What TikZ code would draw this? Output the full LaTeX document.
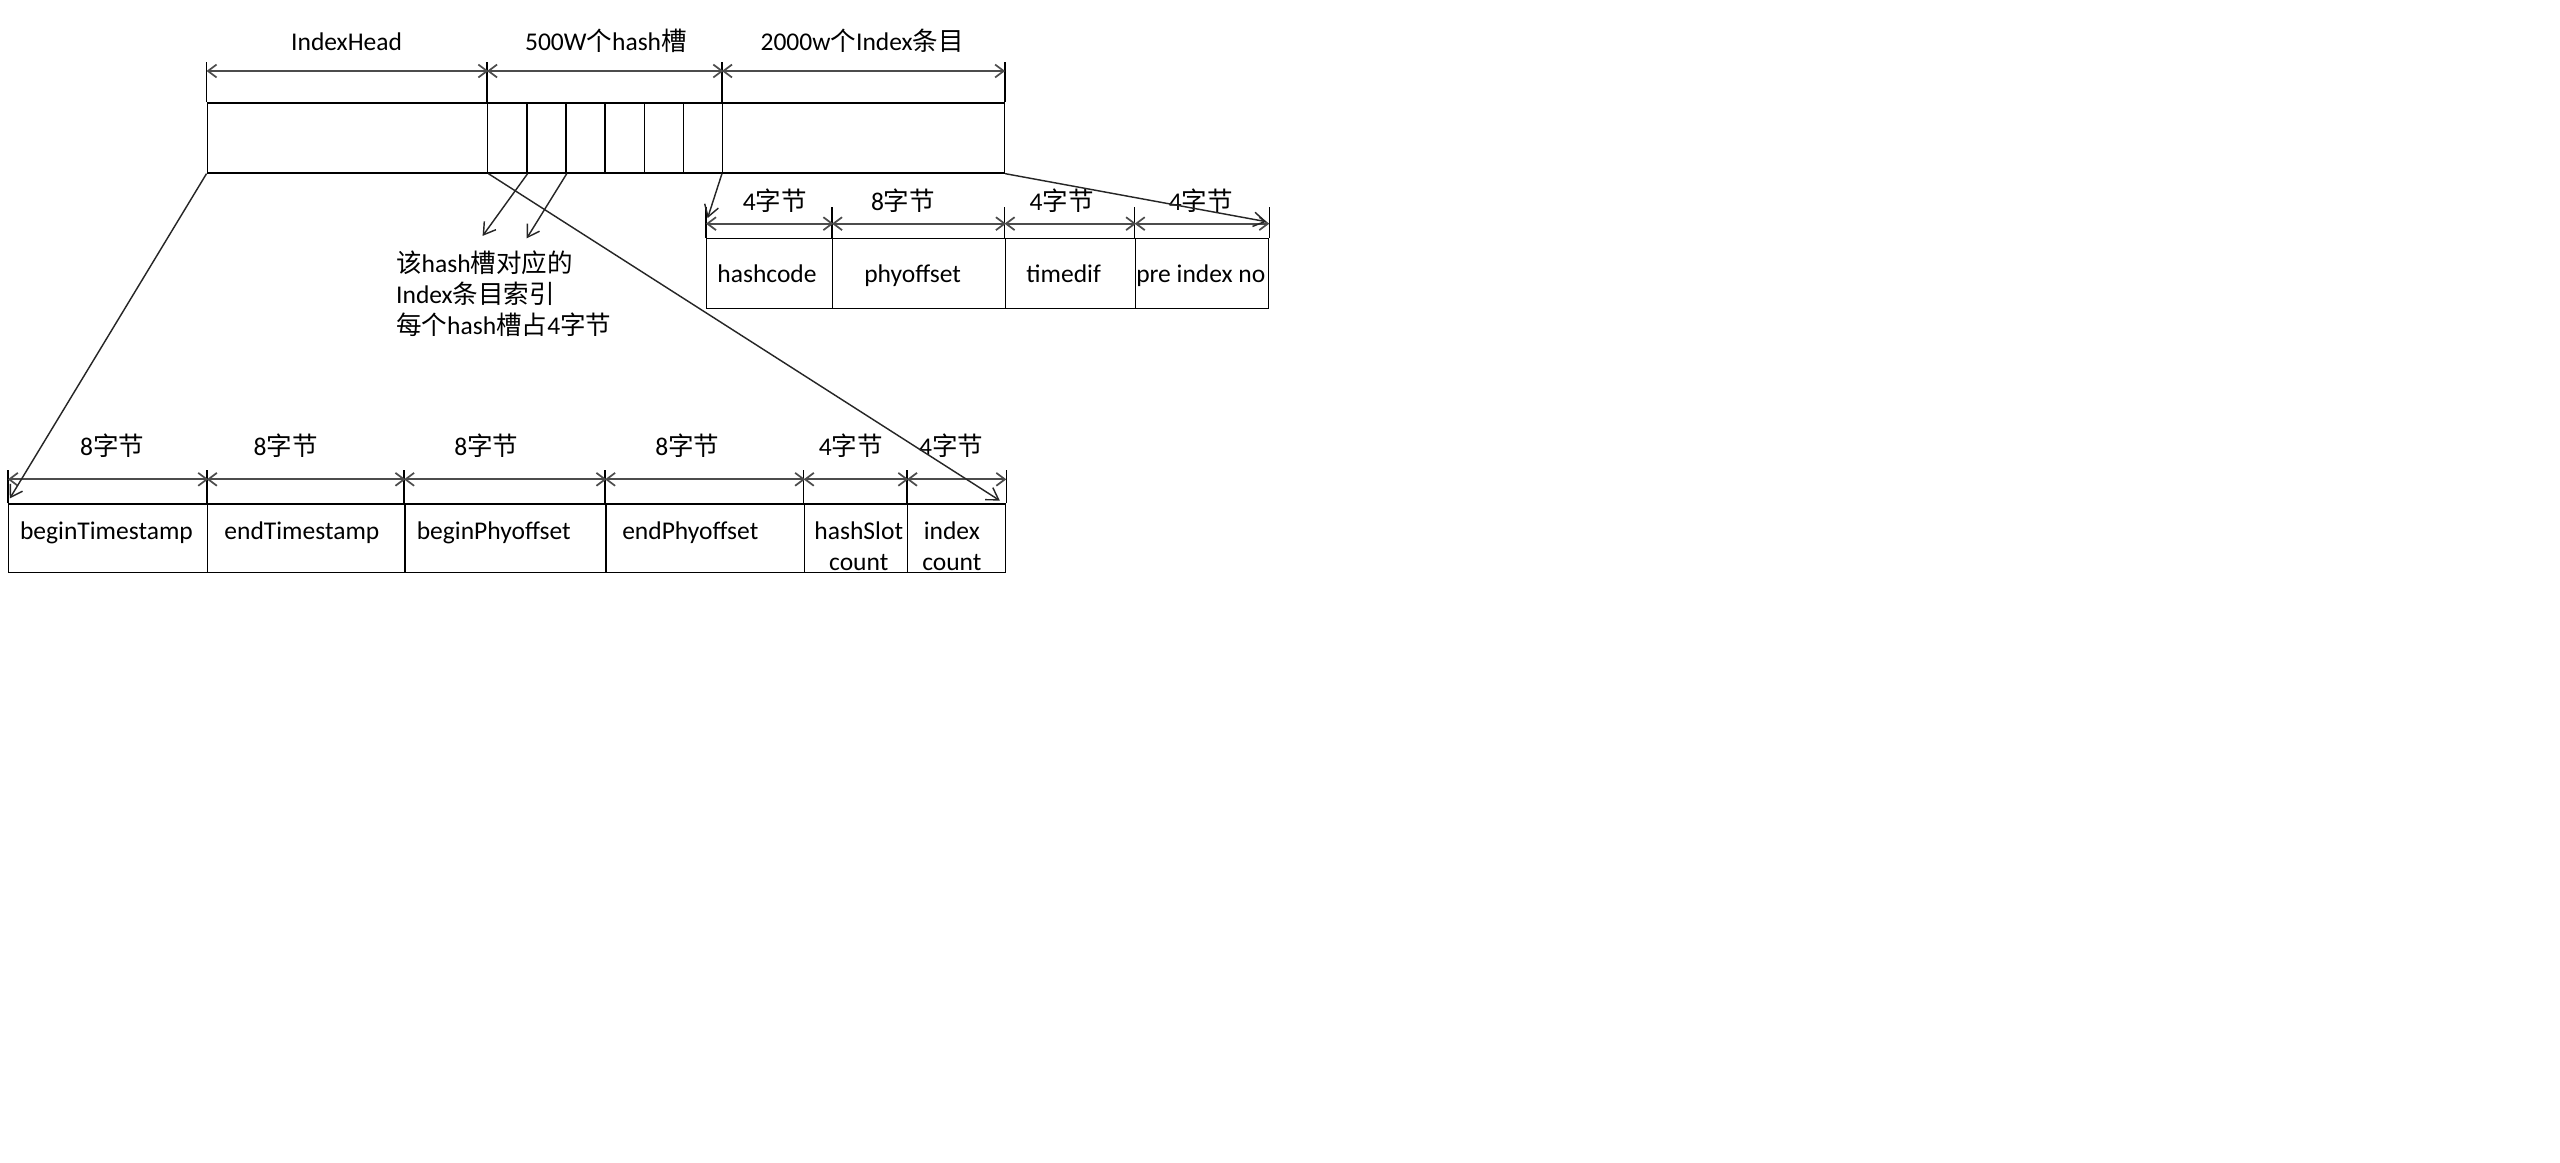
\documentclass[tikz,border=0pt]{standalone}
\usepackage{fontspec}
\setmainfont{Carlito}
\newfontfamily\zhfont{Noto Sans CJK SC}
\newcommand\zh[1]{{\zhfont #1}}
\usetikzlibrary{arrows.meta,calc}

\begin{document}
\begin{tikzpicture}[x=0.02cm,y=-0.02cm,
  box/.style={draw=black, line width=0.5pt, inner sep=0pt, anchor=north west},
  txt/.style={inner sep=0pt, font=\fontsize{8.9}{10.8}\selectfont, text height=0.7em, text depth=0.2em},
  mtxt/.style={inner sep=0pt, font=\fontsize{8.9}{10.8}\selectfont},
  dim/.style={draw=black!70, line width=0.6pt,
    {Straight Barb[length=3pt,width=4.5pt]}-{Straight Barb[length=3pt,width=4.5pt]}},
  ext/.style={draw=black, line width=0.5pt},
  ptr/.style={draw=black!85, line width=0.5pt, -{Straight Barb[length=4pt,width=5pt]}}]

\fill[white] (0,0) rectangle (1568,712);
\useasboundingbox (0,0) rectangle (1568,712);

% ---- index file layout: head, hash slots, index entries
\node[box, minimum width=3.436cm, minimum height=0.856cm] (ih) at (126.5,62.7) {};
\foreach \i in {1,...,6}
  \node[box, minimum width=0.4797cm, minimum height=0.856cm] (s\i) at ({298.3+(\i-1)*23.98},62.7) {};
\node[box, minimum width=3.452cm, minimum height=0.856cm] (ie) at (442.2,62.7) {};

\coordinate (extT) at (0,37.8);
\coordinate (dimT) at (0,43.5);
\foreach \p in {ih.north west, s1.north west, ie.north west, ie.north east}
  \draw[ext] (\p) -- (\p |- extT);
\draw[dim] (ih.north west |- dimT) -- (ih.north east |- dimT);
\draw[dim] (s1.north west |- dimT) -- (s6.north east |- dimT);
\draw[dim] (ie.north west |- dimT) -- (ie.north east |- dimT);

\node[txt] (lblHead)  at (212.3,26.7) {IndexHead};
\node[txt] (lblSlots) at (371.1,26.7) {500W\zh{个}hash\zh{槽}};
\node[txt] (lblItems) at (528.1,26.7) {2000w\zh{个}Index\zh{条目}};

% ---- one index entry
\node[box, minimum width=1.544cm, minimum height=0.862cm] (hc) at (432.4,145.6) {};
\node[box, minimum width=2.114cm, minimum height=0.862cm] (po) at (509.6,145.6) {};
\node[box, minimum width=1.594cm, minimum height=0.862cm] (td) at (615.3,145.6) {};
\node[box, minimum width=1.632cm, minimum height=0.862cm] (pi) at (695,145.6) {};

\coordinate (extE) at (0,127);
\coordinate (dimE) at (0,137);
\foreach \p in {hc.north west, po.north west, td.north west, pi.north west, pi.north east}
  \draw[ext] (\p) -- (\p |- extE);
\foreach \c in {hc, po, td, pi}
  \draw[dim] (\c.north west |- dimE) -- (\c.north east |- dimE);

\node[txt] (szHc) at (474.6,124.5) {4\zh{字节}};
\node[txt] (szPo) at (553.1,124.5) {8\zh{字节}};
\node[txt] (szTd) at (650.3,124.5) {4\zh{字节}};
\node[txt] (szPi) at (735.5,124.5) {4\zh{字节}};

\node[txt] (tHc) at (469.8,168.6) {hashcode};
\node[txt] (tPo) at (559,168.6) {phyoffset};
\node[txt] (tTd) at (651.5,168.6) {timedif};
\node[txt] (tPi) at (735.5,168.6) {pre index no};

% ---- IndexHead fields
\node[box, minimum width=2.438cm, minimum height=0.836cm] (bt) at (4.8,308.3) {};
\node[box, minimum width=2.416cm, minimum height=0.836cm] (et) at (126.7,308.3) {};
\node[box, minimum width=2.462cm, minimum height=0.836cm] (bp) at (247.5,308.3) {};
\node[box, minimum width=2.434cm, minimum height=0.836cm] (ep) at (370.6,308.3) {};
\node[box, minimum width=1.264cm, minimum height=0.836cm] (hs) at (492.3,308.3) {};
\node[box, minimum width=1.200cm, minimum height=0.836cm] (ic) at (555.5,308.3) {};

\coordinate (extH) at (0,288);
\coordinate (dimH) at (0,293.6);
\foreach \p in {bt.north west, et.north west, bp.north west, ep.north west, hs.north west, ic.north west, ic.north east}
  \draw[ext] (\p) -- (\p |- extH);
\foreach \c in {bt, et, bp, ep, hs, ic}
  \draw[dim] (\c.north west |- dimH) -- (\c.north east |- dimH);

\node[txt] (szBt) at (68.7,274.3) {8\zh{字节}};
\node[txt] (szEt) at (174.9,274.3) {8\zh{字节}};
\node[txt] (szBp) at (297.9,274.3) {8\zh{字节}};
\node[txt] (szEp) at (421,274.3) {8\zh{字节}};
\node[txt] (szHs) at (521.2,274.3) {4\zh{字节}};
\node[txt] (szIc) at (582.6,274.3) {4\zh{字节}};

\node[txt] (tBt) at (65.2,326) {beginTimestamp};
\node[txt] (tEt) at (184.9,326) {endTimestamp};
\node[txt] (tBp) at (302.4,326) {beginPhyoffset};
\node[txt] (tEp) at (422.8,326) {endPhyoffset};
\node[mtxt, align=center] (tHs) at (526,334.5) {hashSlot\\count};
\node[mtxt, align=center] (tIc) at (583,334.5) {index\\count};

% ---- note on hash slots
\node[mtxt, align=left, anchor=west] (note) at (242.3,180)
  {\zh{该}hash\zh{槽对应的}\\Index\zh{条目索引}\\\zh{每个}hash\zh{槽占}4\zh{字节}};

% ---- pointers
\coordinate (noteA) at (295.6,144.5);
\coordinate (noteB) at (322.6,146);
\draw[ptr] (s1.south east) -- (noteA);
\draw[ptr] (s2.south east) -- (noteB);

\coordinate (headL) at ($(bt.north west)+(1.2,-3)$);
\coordinate (headR) at ($(ic.north east)+(-4,-1.7)$);
\draw[ptr] (ih.south west) -- (headL);
\draw[ptr] (ih.south east) -- (headR);

\coordinate (entL) at ($(hc.north west)+(1,-12)$);
\coordinate (entR) at ($(pi.north east)+(-1.8,-9.8)$);
\draw[ptr] (ie.south west) -- (entL);
\draw[ptr] (ie.south east) -- (entR);
\end{tikzpicture}
\end{document}
